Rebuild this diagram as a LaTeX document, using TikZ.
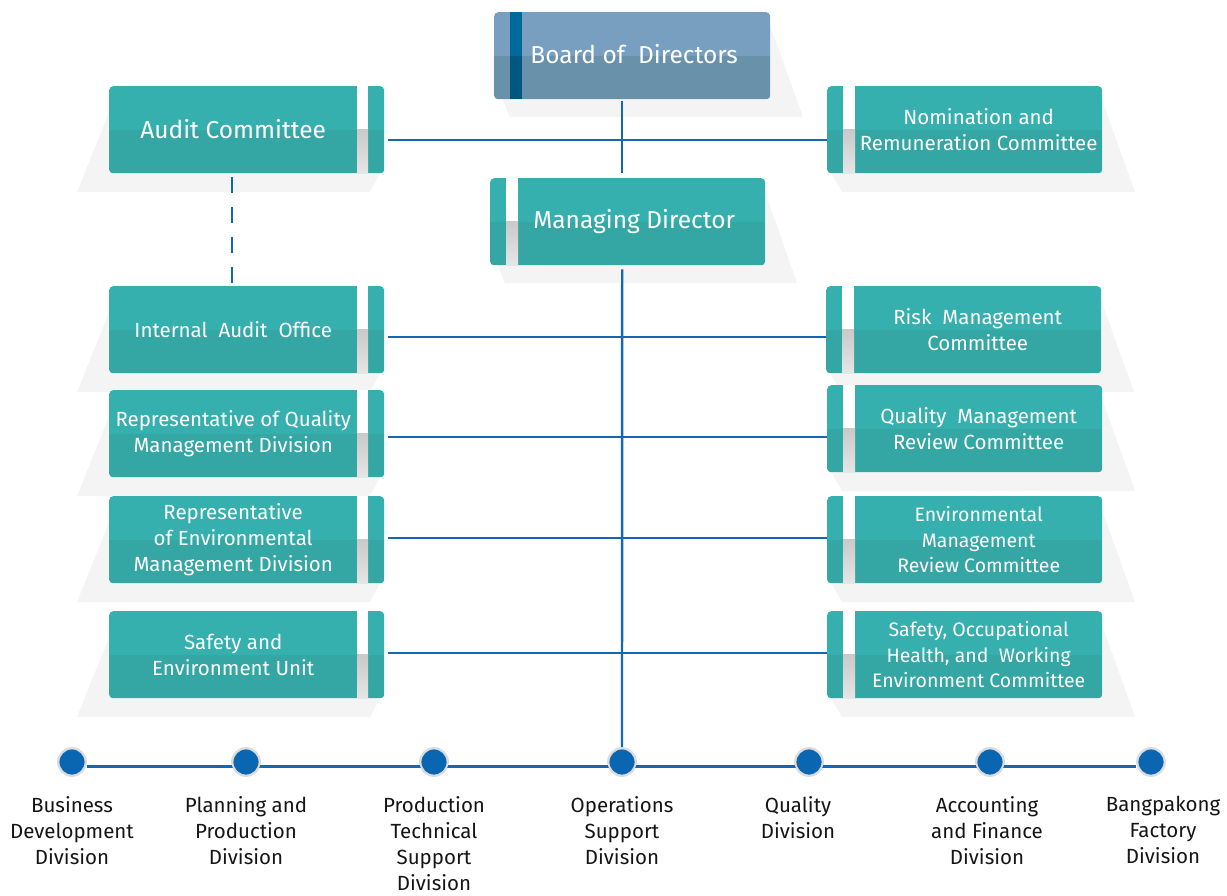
\documentclass[tikz,border=0pt]{standalone}
\usepackage{fontspec}
\setmainfont{Fira Sans}
\definecolor{tealtop}{HTML}{35B0AE}
\definecolor{tealbot}{HTML}{34A6A4}
\definecolor{bluetop}{HTML}{789FC0}
\definecolor{bluebot}{HTML}{6A91AA}
\definecolor{stripblue}{HTML}{00699C}
\definecolor{stripblue2}{HTML}{005882}
\definecolor{shadowgrey}{HTML}{F4F4F4}
\definecolor{linkblue}{HTML}{1268B3}
\definecolor{dotblue}{HTML}{0B66B2}
\definecolor{ringgrey}{HTML}{DCDCDC}
\definecolor{labelink}{HTML}{151515}

\tikzset{
  unitbox/.style={rectangle, rounded corners=4pt, inner sep=0pt,
    minimum width=275pt, minimum height=87pt, fill=tealtop, text=white},
  % strip near the right edge (left-hand column)
  rightstrip/.style={unitbox, path picture={
    \fill[tealbot, sharp corners] (path picture bounding box.west) rectangle (path picture bounding box.south east);
    \fill[white, sharp corners] ([xshift=-27pt]path picture bounding box.north east) rectangle ([xshift=-16pt]path picture bounding box.east);
    \shade[top color=black!21, bottom color=black!10, sharp corners] ([xshift=-27pt]path picture bounding box.east) rectangle ([xshift=-16pt]path picture bounding box.south east);
  }},
  % strip near the left edge (right-hand column, managing director)
  leftstrip/.style={unitbox, path picture={
    \fill[tealbot, sharp corners] (path picture bounding box.west) rectangle (path picture bounding box.south east);
    \fill[white, sharp corners] ([xshift=16pt]path picture bounding box.north west) rectangle ([xshift=28pt]path picture bounding box.west);
    \shade[top color=black!21, bottom color=black!10, sharp corners] ([xshift=16pt]path picture bounding box.west) rectangle ([xshift=28pt]path picture bounding box.south west);
  }},
  boardbox/.style={unitbox, minimum width=276pt, fill=bluetop, path picture={
    \fill[bluebot, sharp corners] (path picture bounding box.west) rectangle (path picture bounding box.south east);
    \fill[stripblue, sharp corners] ([xshift=16pt]path picture bounding box.north west) rectangle ([xshift=28pt]path picture bounding box.west);
    \fill[stripblue2, sharp corners] ([xshift=16pt]path picture bounding box.west) rectangle ([xshift=28pt]path picture bounding box.south west);
  }},
  link/.style={draw=linkblue, line width=2.4pt},
  dot/.style={circle, fill=dotblue, draw=ringgrey, line width=1.8pt, minimum size=28pt, inner sep=0pt},
  divlabel/.style={anchor=north, align=center, text=labelink, font=\fontsize{20.5}{26}\selectfont, inner sep=0pt},
}

% unit in the left-hand column: shadow slanting left, strip on the right
\newcommand\leftunit[5]{%
  \fill[shadowgrey] (#2+5,#3+14) -- (#2-32,#3+106) -- (#2+261,#3+106) -- (#2+275,#3+80) -- (#2+275,#3+14) -- cycle;
  \node[rightstrip, anchor=north west] (#1) at (#2,#3)
    {\parbox{248pt}{\centering\fontsize{#5}{26}\selectfont #4}\hspace*{27pt}};
}
% unit in the right-hand column: shadow slanting right, strip on the left
\newcommand\rightunit[5]{%
  \fill[shadowgrey] (#2,#3+80) -- (#2+15,#3+106) -- (#2+308,#3+106) -- (#2+275,#3+14) -- cycle;
  \node[leftstrip, anchor=north west] (#1) at (#2,#3)
    {\hspace*{28pt}\parbox{247pt}{\centering\fontsize{#5}{25.5}\selectfont #4}};
}

\begin{document}
\begin{tikzpicture}[x=1pt, y=-1pt]
\useasboundingbox (0,0) rectangle (1227,895);

% top of the chart
\fill[shadowgrey] (494,80) -- (510,117) -- (803,117) -- (770,25) -- cycle;
\node[boardbox, anchor=north west] (board) at (494,12)
  {\hspace*{28pt}\parbox{224pt}{\centering\fontsize{24.5}{26}\selectfont\raisebox{4pt}{Board of\ \ Directors}}\hspace*{24pt}};

\fill[shadowgrey] (490,245) -- (505,283) -- (797,283) -- (765,192) -- cycle;
\node[leftstrip, anchor=north west] (md) at (490,178)
  {\hspace*{28pt}\parbox{232pt}{\centering\fontsize{24.5}{26}\selectfont Managing Director}\hspace*{15pt}};

% committees and units
\leftunit{audit}{109}{86}{\raisebox{2pt}{Audit Committee}}{24.5}
\rightunit{nomination}{827}{86}{Nomination and\\Remuneration Committee}{20.5}
\leftunit{internal}{109}{286}{Internal\ \ Audit\ \ Office}{20.5}
\rightunit{risk}{826}{286}{Risk\ \ Management\\Committee}{20.5}
\leftunit{repqm}{109}{390}{Representative of Quality\\Management Division}{20.5}
\rightunit{qmreview}{827}{385}{Quality\ \ Management\\Review Committee}{20.5}
\leftunit{repenv}{109}{496}{Representative\\of Environmental\\Management Division}{20.5}
\rightunit{envreview}{827}{496}{Environmental\\Management\\Review Committee}{19.5}
\leftunit{safety}{109}{611}{Safety and\\Environment Unit}{20.5}
\rightunit{ohs}{827}{611}{Safety, Occupational\\Health, and\ \ Working\\Environment Committee}{19.5}

% divisions
\node[dot] (d1) at (72,762) {};
\node[dot] (d2) at (246,762) {};
\node[dot] (d3) at (434,762) {};
\node[dot] (d4) at (622,762) {};
\node[dot] (d5) at (809,762) {};
\node[dot] (d6) at (990,762) {};
\node[dot] (d7) at (1151,762) {};

% connectors
\draw[link] ([xshift=-10pt,yshift=-2pt]board.south) -- ([xshift=-5.5pt,yshift=5pt]md.north);
\draw[link] ([xshift=-5.5pt,yshift=-4pt]md.south) -- (d4.north);
\draw[link] ([xshift=4pt,yshift=-10.5pt]audit.east) coordinate (c1) -- (c1 -| nomination.west);
\draw[link] ([xshift=4pt,yshift=-7.5pt]internal.east) coordinate (c2) -- (c2 -| risk.west);
\draw[link] ([xshift=4pt,yshift=-3.5pt]repqm.east) coordinate (c3) -- (c3 -| qmreview.west);
\draw[link] ([xshift=4pt,yshift=1.5pt]repenv.east) coordinate (c4) -- (c4 -| envreview.west);
\draw[link] ([xshift=4pt,yshift=1.5pt]safety.east) coordinate (c5) -- (c5 -| ohs.west);
\draw[link, dash pattern=on 15.5pt off 14.5pt] ([xshift=123pt,yshift=-4pt]audit.south west) -- ([xshift=123pt,yshift=1pt]internal.north west);
\draw[link] ([yshift=-4.5pt]d1.east) -- ([yshift=-4.5pt]d7.west);

% dots sit on top of the division line
\foreach \d in {d1,d2,d3,d4,d5,d6,d7}
  \fill[dotblue] (\d) circle (13pt);
\foreach \d in {d1,d2,d3,d4,d5,d6,d7}
  \draw[ringgrey, line width=1.8pt] (\d) circle (13.5pt);

\node[divlabel] (l1) at (72,796) {Business\\Development\\Division};
\node[divlabel] (l2) at (246,796) {Planning and\\Production\\Division};
\node[divlabel] (l3) at (434,796) {Production\\Technical\\Support\\Division};
\node[divlabel] (l4) at (622,796) {Operations\\Support\\Division};
\node[divlabel] (l5) at (798,796) {Quality\\Division};
\node[divlabel] (l6) at (987,796) {Accounting\\and Finance\\Division};
\node[divlabel] (l7) at (1163,796) {Bangpakong\\Factory\\Division};
\end{tikzpicture}
\end{document}
